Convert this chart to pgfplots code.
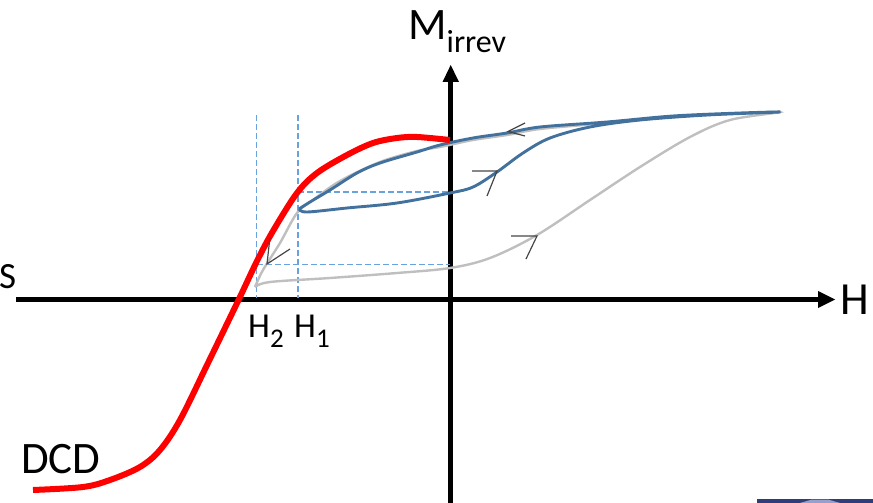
\documentclass[border=0pt]{standalone}
\usepackage{pgfplots}
\pgfplotsset{compat=1.18}
\usepackage{fontspec}
\setmainfont{Carlito}

\definecolor{dcdred}{RGB}{255,0,0}
\definecolor{loopblue}{RGB}{65,113,156}
\definecolor{loopgray}{RGB}{191,191,191}
\definecolor{guide}{RGB}{105,162,220}
\definecolor{arrowgray}{RGB}{70,70,70}
\definecolor{navy}{RGB}{47,62,120}
\definecolor{navylight}{RGB}{150,160,205}

\begin{document}
\begin{tikzpicture}
\begin{axis}[
  scale only axis, width=873pt, height=503pt,
  xmin=0, xmax=873, ymin=0, ymax=503, y dir=reverse,
  hide axis, clip=false,
]
% frame corners for the page size
\coordinate (frameSW) at (axis cs:0,503);
\coordinate (frameNE) at (axis cs:873,0);

% axes with arrow heads
\addplot[black, line width=5pt] coordinates {(16,299.5) (820,299.5)};
\fill[black] (axis cs:818,291) -- (axis cs:835,299.5) -- (axis cs:818,308) -- cycle;
\addplot[black, line width=5pt] coordinates {(450.7,503) (450.7,80)};
\fill[black] (axis cs:442.5,82) -- (axis cs:450.7,65) -- (axis cs:459,82) -- cycle;

% guide lines for H1 and H2
\addplot[guide, line width=1.3pt, dash pattern=on 6pt off 3pt] coordinates {(256.7,115) (256.7,298)};
\addplot[guide, line width=1.3pt, dash pattern=on 6pt off 3pt] coordinates {(298,115) (298,298)};
\addplot[guide, line width=1.3pt, dash pattern=on 6pt off 3pt] coordinates {(298,192) (450,192)};
\addplot[guide, line width=1.3pt, dash pattern=on 6pt off 3pt] coordinates {(257,264.5) (450,264.5)};

% major loop (gray)
\addplot[loopgray, line width=2.4pt, smooth, tension=0.55] coordinates {
  (255,287) (270,282) (330,278) (397,273) (450,268) (490,258) (537,235)
  (590,200) (640,167) (690,137) (730,120) (780,112)
  (740,113.5) (673,117) (607,123) (540,129) (507,135) (473,140) (440,147)
  (417,151) (380,162) (340,181) (313,200) (297,213) (280,243) (263,270) (255,287)};

% minor loop (blue)
\addplot[loopblue, line width=2.9pt, smooth, tension=0.55] coordinates {
  (299,209) (307,212) (347,208) (397,203) (450,193) (473,187) (497,172)
  (523,153) (550,138) (590,127) (640,120) (707,115) (780,112)
  (740,113) (673,116) (607,122) (540,127) (507,133) (473,138) (440,145)
  (417,152) (380,163) (357,173) (330,190) (310,202) (299,209)};

% DCD curve
\addplot[dcdred, line width=6pt, smooth, tension=0.55] coordinates {
  (33,490) (83,487) (110,480) (140,467) (160,450) (180,420)
  (208,363) (239,299) (257,261) (273,231) (297,193) (317,173) (347,155)
  (373,143) (397,138) (417,137) (450,140)};

% direction arrows
\addplot[arrowgray, line width=1.2pt] coordinates {(525,123) (508,131.5) (525,136)};
\addplot[arrowgray, line width=1.2pt] coordinates {(472,171) (497,171) (487,196)};
\addplot[arrowgray, line width=1.2pt] coordinates {(511,236) (537,236) (526,259)};
\addplot[arrowgray, line width=1.2pt] coordinates {(270,237) (267,264) (290,249)};

% labels
\node[anchor=base west, inner sep=0pt, font=\fontsize{45}{50}\selectfont] at (axis cs:408,40)
  {M\raisebox{-13pt}{\fontsize{32}{32}\selectfont irrev}};
\node[anchor=base west, inner sep=0pt, font=\fontsize{46}{50}\selectfont] at (axis cs:840,314) {H};
\node[anchor=base west, inner sep=0pt, font=\fontsize{37}{40}\selectfont] at (axis cs:-1,288) {S};
\node[anchor=base west, inner sep=0pt, font=\fontsize{35}{40}\selectfont] at (axis cs:248,337)
  {H\raisebox{-10pt}{\fontsize{27}{27}\selectfont 2}};
\node[anchor=base west, inner sep=0pt, font=\fontsize{35}{40}\selectfont] at (axis cs:294,337)
  {H\raisebox{-10pt}{\fontsize{27}{27}\selectfont 1}};
\node[anchor=base west, inner sep=0pt, font=\fontsize{45}{50}\selectfont] at (axis cs:21,473) {DCD};

% strip at the lower right edge
\fill[navy] (axis cs:757,499) rectangle (axis cs:873,503);
\fill[navylight] (axis cs:800,503) -- (axis cs:812,499.5) -- (axis cs:828,499.5) -- (axis cs:840,503) -- cycle;
\end{axis}
\pgfresetboundingbox
\useasboundingbox (frameSW) rectangle (frameNE);
\end{tikzpicture}
\end{document}
